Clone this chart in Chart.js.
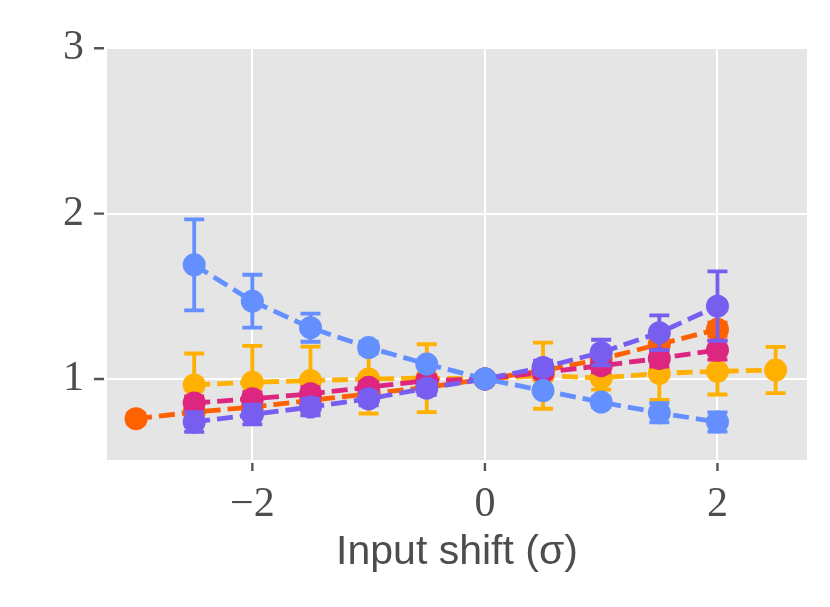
<!DOCTYPE html>
<html>
<head>
<meta charset="utf-8">
<script src="https://cdn.jsdelivr.net/npm/chart.js@4.4.1/dist/chart.umd.min.js"></script>
<style>
  html, body { margin: 0; padding: 0; background: #ffffff; }
  #wrap { width: 830px; height: 607px; }
</style>
</head>
<body>
<div id="wrap"><canvas id="myChart" width="830" height="607"></canvas></div>
<script>
/* ---- data ---- */
const shiftsA = [-2.5, -2, -1.5, -1, -0.5, 0, 0.5, 1, 1.5, 2];
const shiftsOrange = [-3, -2.5, -2, -1.5, -1, -0.5, 0, 0.5, 1, 1.5, 2];
const shiftsYellow = [-2.5, -2, -1.5, -1, -0.5, 0, 0.5, 1, 1.5, 2, 2.5];

const blueY = [1.69, 1.47, 1.31, 1.19, 1.09, 1.0, 0.93, 0.86, 0.795, 0.74];
const blueErr = [0.275, 0.16, 0.085, 0.035, 0.02, 0, 0.02, 0.03, 0.058, 0.058];

const purpleY = [0.74, 0.785, 0.83, 0.88, 0.944, 1.0, 1.07, 1.16, 1.28, 1.44];
const purpleErr = [0.06, 0.06, 0.05, 0.04, 0.04, 0, 0.04, 0.077, 0.105, 0.21];

const magentaY = [0.855, 0.88, 0.91, 0.95, 0.99, 1.0, 1.04, 1.08, 1.124, 1.175];
const magentaErr = [0.04, 0.04, 0.04, 0.03, 0.03, 0, 0.03, 0.04, 0.05, 0.058];

const orangeY = [0.76, 0.80, 0.83, 0.87, 0.91, 0.95, 1.0, 1.05, 1.12, 1.21, 1.30];
const orangeErr = [0.03, 0.03, 0.03, 0.03, 0.03, 0.03, 0, 0.03, 0.03, 0.04, 0.04];

const yellowY = [0.964, 0.98, 0.99, 1.0, 1.005, 1.0, 1.02, 1.006, 1.034, 1.046, 1.054];
const yellowErr = [0.19, 0.22, 0.205, 0.21, 0.205, 0, 0.2, 0.07, 0.16, 0.14, 0.14];

const xTicks = [-2, 0, 2];
const yTicks = [1, 2, 3];

function toPoints(xs, ys) {
    return xs.map(function(x, i) { return { x: x, y: ys[i] }; });
}
function fmtTick(v) {
    return v < 0 ? '\u2212' + Math.abs(v) : String(v);
}

function series(label, color, xs, ys, errs) {
    return {
        label: label,
        data: toPoints(xs, ys),
        errors: errs,
        borderColor: color,
        backgroundColor: color,
        borderWidth: 4.8,
        borderDash: [16, 7],
        pointRadius: 11.5,
        pointHoverRadius: 11.5,
        pointBorderWidth: 0,
        fill: false,
        tension: 0
    };
}

/* grey panel behind the plot */
const panelBg = {
    id: 'panelBg',
    beforeDraw(chart) {
        const a = chart.chartArea, c = chart.ctx;
        c.save();
        c.fillStyle = '#e5e5e5';
        c.fillRect(a.left, a.top, a.right - a.left, a.bottom - a.top);
        c.restore();
    }
};

/* tick marks sitting a little outside the panel */
const outerTicks = {
    id: 'outerTicks',
    afterDraw(chart) {
        const c = chart.ctx, a = chart.chartArea;
        const xs = chart.scales.x, ys = chart.scales.y;
        c.save();
        c.strokeStyle = '#555555';
        c.lineWidth = 2.4;
        c.beginPath();
        xTicks.forEach(function(v) {
            const px = xs.getPixelForValue(v);
            c.moveTo(px, a.bottom + 3);
            c.lineTo(px, a.bottom + 11);
        });
        yTicks.forEach(function(v) {
            const py = ys.getPixelForValue(v);
            c.moveTo(a.left - 3, py);
            c.lineTo(a.left - 13, py);
        });
        c.stroke();
        c.restore();
    }
};

/* vertical error bars with caps, drawn under each dataset's own markers */
const errorBars = {
    id: 'errorBars',
    beforeDatasetDraw(chart, args) {
        const ds = chart.data.datasets[args.index];
        if (!ds.errors) return;
        const c = chart.ctx, a = chart.chartArea;
        const xs = chart.scales.x, ys = chart.scales.y;
        c.save();
        c.beginPath();
        c.rect(a.left, a.top, a.right - a.left, a.bottom - a.top);
        c.clip();
        c.strokeStyle = ds.borderColor;
        c.lineWidth = 3.8;
        c.setLineDash([]);
        c.beginPath();
        ds.data.forEach(function(p, i) {
            const e = ds.errors[i];
            if (!e) return;
            const px = xs.getPixelForValue(p.x);
            const top = ys.getPixelForValue(p.y + e);
            const bot = ys.getPixelForValue(p.y - e);
            c.moveTo(px, top); c.lineTo(px, bot);
            c.moveTo(px - 10, top); c.lineTo(px + 10, top);
            c.moveTo(px - 10, bot); c.lineTo(px + 10, bot);
        });
        c.stroke();
        c.restore();
    }
};

const ctx = document.getElementById('myChart').getContext('2d');
const myChart = new Chart(ctx, {
    type: 'line',
    data: {
        datasets: [
            series('blue', '#648fff', shiftsA, blueY, blueErr),
            series('purple', '#785ef0', shiftsA, purpleY, purpleErr),
            series('magenta', '#dc267f', shiftsA, magentaY, magentaErr),
            series('orange', '#fe6100', shiftsOrange, orangeY, orangeErr),
            series('yellow', '#ffb000', shiftsYellow, yellowY, yellowErr)
        ]
    },
    options: {
        responsive: false,
        animation: false,
        devicePixelRatio: 1,
        layout: { padding: { left: 0, top: 47, right: 23, bottom: 0 } },
        plugins: {
            legend: { display: false },
            tooltip: { enabled: false }
        },
        scales: {
            x: {
                type: 'linear',
                min: -3.25,
                max: 2.77,
                afterBuildTicks: function(s) { s.ticks = xTicks.map(function(v) { return { value: v }; }); },
                afterFit: function(s) { s.height = 147; },
                border: { display: false },
                grid: { color: '#ffffff', lineWidth: 2, drawTicks: false },
                ticks: {
                    padding: 20,
                    color: '#4d4d4d',
                    font: { family: 'Liberation Serif', size: 42 },
                    callback: function(v) { return fmtTick(v); }
                },
                title: {
                    display: true,
                    text: 'Input shift (\u03c3)',
                    color: '#4d4d4d',
                    font: { family: 'Liberation Sans', size: 41 },
                    padding: { top: 0, bottom: 30 }
                }
            },
            y: {
                type: 'linear',
                min: 0.51,
                max: 3,
                afterBuildTicks: function(s) { s.ticks = yTicks.map(function(v) { return { value: v }; }); },
                afterFit: function(s) { s.width = 107; },
                border: { display: false },
                grid: { color: '#ffffff', lineWidth: 2, drawTicks: false },
                ticks: {
                    padding: 23,
                    color: '#4d4d4d',
                    font: { family: 'Liberation Serif', size: 42 },
                    callback: function(v) { return fmtTick(v); }
                }
            }
        }
    },
    plugins: [panelBg, errorBars, outerTicks]
});
</script>
</body>
</html>
